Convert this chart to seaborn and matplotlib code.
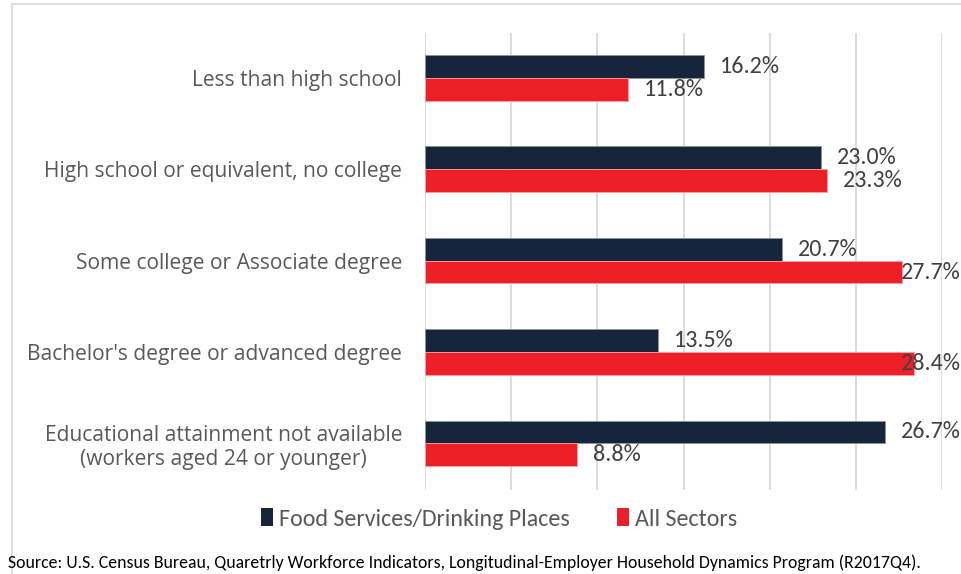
import matplotlib
matplotlib.use("Agg")
import matplotlib.pyplot as plt
from matplotlib import font_manager
from matplotlib.lines import Line2D
from matplotlib.patches import Patch
import seaborn as sns
import pandas as pd

categories = [
    "Less than high school",
    "High school or equivalent, no college",
    "Some college or Associate degree",
    "Bachelor's degree or advanced degree",
    "Educational attainment not available\n(workers aged 24 or younger)",
]
series_names = ["Food Services/Drinking Places", "All Sectors"]
food_services = [16.2, 23.0, 20.7, 13.5, 26.7]
all_sectors = [11.8, 23.3, 27.7, 28.4, 8.8]
colors = ["#17253C", "#EE1F26"]
source_text = ("Source: U.S. Census Bureau, Quaretrly Workforce Indicators, "
               "Longitudinal-Employer Household Dynamics Program (R2017Q4).")

df = pd.DataFrame({
    "category": categories * 2,
    "series": [series_names[0]] * len(categories) + [series_names[1]] * len(categories),
    "value": food_services + all_sectors,
})

sns.set_theme(style="white")
available = {f.name for f in font_manager.fontManager.ttflist}
label_font = "Open Sans" if "Open Sans" in available else "DejaVu Sans"
narrow_font = next((f for f in ["Carlito", "Liberation Sans Narrow", "Lato"] if f in available), "DejaVu Sans")
plt.rcParams["font.family"] = [label_font, "DejaVu Sans"]

fig = plt.figure(figsize=(9.61, 5.74), dpi=100)
ax = fig.add_axes([425 / 961, 1 - 490 / 574, (942 - 425) / 961, (490 - 33) / 574])

sns.barplot(data=df, y="category", x="value", hue="series", orient="h",
            palette=colors, width=0.5, ax=ax, legend=False,
            edgecolor="#8a93a3", linewidth=0.6, saturation=1)
for bar in ax.patches:
    if bar.get_facecolor()[0] > 0.5:
        bar.set_edgecolor("#f7a0a3")

ax.set_xlim(0, 30)
ax.set_ylim(len(categories) - 0.5 + 0.01, -0.49)
ax.set_xticks([0, 5, 10, 15, 20, 25, 30])
ax.set_xticklabels([])
ax.grid(axis="x", color="#D9D9D9", linewidth=1.3)
ax.set_axisbelow(True)
for s in ax.spines.values():
    s.set_visible(False)
ax.set_xlabel("")
ax.set_ylabel("")
ax.tick_params(axis="y", length=0, pad=16.5)
for t in ax.get_yticklabels():
    t.set_fontsize(15.1)
    t.set_color("#595959")
    t.set_multialignment("center")

# value labels next to each bar, pulled in where they would run past the edge
for cont, vals in zip(ax.containers, [food_services, all_sectors]):
    for bar, v in zip(cont, vals):
        y = bar.get_y() + bar.get_height() / 2
        x = min(v + 0.93, 27.62)
        ax.text(x, y, f"{v:.1f}%", va="center", ha="left", fontsize=17.3,
                color="#404040", family=[narrow_font, "DejaVu Sans"], clip_on=False)

# legend
handles = [Patch(facecolor=c, edgecolor="none") for c in colors]
fig.legend(handles, series_names, loc="center", bbox_to_anchor=(499 / 961, 1 - 519 / 574),
           ncol=2, frameon=False, handlelength=0.5, handleheight=0.75, handletextpad=0.25,
           columnspacing=2.0, prop={"family": [narrow_font, "DejaVu Sans"], "size": 17.3},
           labelcolor="#595959")

# chart-area border
fig.add_artist(Line2D([12 / 961, 12 / 961], [0, 1 - 3.5 / 574], color="#D9D9D9", lw=1.2))
fig.add_artist(Line2D([12 / 961, 1], [1 - 3.5 / 574, 1 - 3.5 / 574], color="#D9D9D9", lw=1.2))

fig.text(8 / 961, 1 - 563 / 574, source_text, ha="left", va="center", fontsize=12.8,
         color="#000000", family=[narrow_font, "DejaVu Sans"])

fig.savefig("out.png", dpi=100)
